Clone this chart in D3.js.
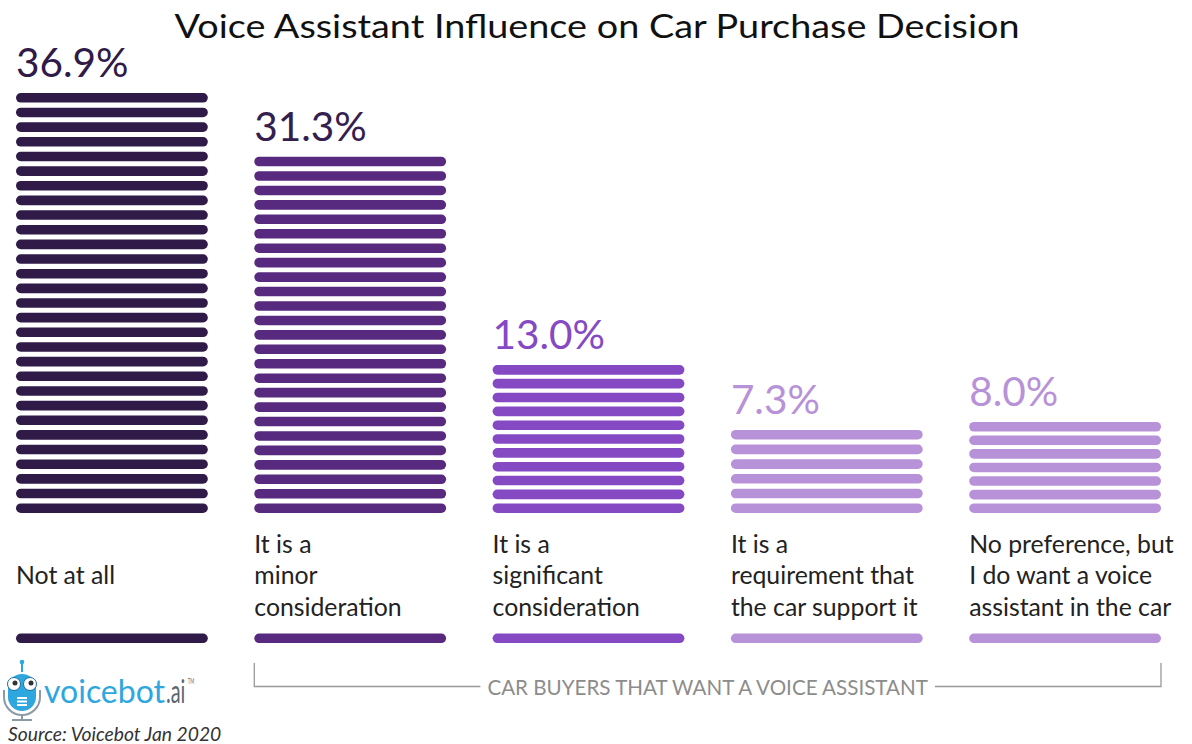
<!DOCTYPE html>
<html><head><meta charset="utf-8">
<script src="https://cdn.jsdelivr.net/npm/d3@7"></script>
<style>
html,body{margin:0;padding:0;background:#fff;}
svg{display:block;}
text{font-family:Lato,"Open Sans",sans-serif;}
</style></head>
<body>
<svg id="chart" width="1192" height="744"></svg>
<script>
const categories = ["Not at all", "It is a minor consideration", "It is a significant consideration", "It is a requirement that the car support it", "No preference, but I do want a voice assistant in the car"];
const labelLines = [["Not at all"], ["It is a", "minor", "consideration"], ["It is a", "significant", "consideration"], ["It is a", "requirement that", "the car support it"], ["No preference, but", "I do want a voice", "assistant in the car"]];
const values = [36.9, 31.3, 13.0, 7.3, 8.0];
const valueLabels = ["36.9%", "31.3%", "13.0%", "7.3%", "8.0%"];
const barColors = ["#2f1a48", "#572a7f", "#8549c4", "#b892d8", "#b892d8"];
const textColors = ["#2f1a48", "#33204f", "#8549c4", "#b892d8", "#b892d8"];
const title = "Voice Assistant Influence on Car Purchase Decision";
const bracketLabel = "CAR BUYERS THAT WANT A VOICE ASSISTANT";
const source = "Source: Voicebot Jan 2020";

const svg = d3.select("#chart");
const x = d3.scaleBand().domain(categories).range([16, 1161]).paddingInner(0.195).paddingOuter(0);
const y = d3.scaleLinear().domain([0, d3.max(values)]).range([513, 93]);
const T = 9.6, targetPitch = 14.5;

svg.append("text").attr("x", 597).attr("y", 38).attr("text-anchor", "middle")
  .attr("font-family", "'Open Sans',sans-serif")
  .attr("font-size", 33).attr("fill", "#111").attr("textLength", 845).attr("lengthAdjust", "spacingAndGlyphs").text(title);

const data = categories.map((c, i) => ({c, v: values[i], lab: valueLabels[i], lines: labelLines[i], color: barColors[i], tcolor: textColors[i]}));

const g = svg.selectAll("g.bar").data(data).enter().append("g").attr("class", "bar");
g.each(function(d) {
  const sel = d3.select(this);
  const top = y(d.v), bottom = y(0), h = bottom - top;
  const n = Math.round((h - T) / targetPitch) + 1;
  const pitch = (h - T) / (n - 1);
  const stripes = d3.range(n).map(k => top + k * pitch);
  sel.selectAll("rect.s").data(stripes).enter().append("rect")
    .attr("x", x(d.c)).attr("y", s => s).attr("width", x.bandwidth()).attr("height", T)
    .attr("rx", T / 2).attr("fill", d.color);
  sel.append("text").attr("x", x(d.c)).attr("y", top - 16).attr("font-size", 40.5)
    .attr("fill", d.tcolor).text(d.lab);
  const lh = 31.5, mid = 575.5;
  d.lines.forEach((ln, k) => {
    const cy = mid - (d.lines.length - 1) * lh / 2 + k * lh;
    sel.append("text").attr("x", x(d.c)).attr("y", cy + 8.5).attr("font-size", 24.8)
      .attr("fill", "#222").text(ln);
  });
  sel.append("rect").attr("x", x(d.c)).attr("y", 633.5).attr("width", x.bandwidth()).attr("height", T)
    .attr("rx", T / 2).attr("fill", d.color);
});

// bracket
const bx0 = x(categories[1]), bx1 = x(categories[4]) + x.bandwidth();
const bt = svg.append("text").attr("x", (bx0 + bx1) / 2).attr("y", 694.5).attr("text-anchor", "middle")
  .attr("font-size", 20.6).attr("fill", "#8c8c8c").text(bracketLabel);
const tw = bt.node().getComputedTextLength();
const tl = (bx0 + bx1) / 2 - tw / 2 - 7, tr = (bx0 + bx1) / 2 + tw / 2 + 7;
svg.append("path").attr("d", `M${bx0},663V686.5H${tl}M${tr},686.5H${bx1}V663`)
  .attr("fill", "none").attr("stroke", "#999").attr("stroke-width", 1.3);

// logo
const logo = svg.append("g");
const blue = "#2ea7df";
logo.append("line").attr("x1", 22).attr("x2", 22).attr("y1", 663).attr("y2", 672).attr("stroke", blue).attr("stroke-width", 2);
logo.append("circle").attr("cx", 22).attr("cy", 662).attr("r", 2.3).attr("fill", blue);
logo.append("path").attr("d", "M8,688 A14,14 0 0 1 36,688 L36,697 A14,14 0 0 1 8,697 Z").attr("fill", blue);
logo.append("path").attr("d", "M4,690 V697 A18,18 0 0 0 40,697 V690").attr("fill", "none").attr("stroke", "#8a9aa6").attr("stroke-width", 2);
logo.append("line").attr("x1", 22).attr("x2", 22).attr("y1", 715).attr("y2", 720).attr("stroke", "#8a9aa6").attr("stroke-width", 2);
logo.append("line").attr("x1", 12).attr("x2", 32).attr("y1", 720).attr("y2", 720).attr("stroke", "#8a9aa6").attr("stroke-width", 2);
[[14, 684], [30, 684]].forEach(([cx, cy]) => {
  logo.append("circle").attr("cx", cx).attr("cy", cy).attr("r", 6.5).attr("fill", "#fff").attr("stroke", "#1d6f9c").attr("stroke-width", 1);
  logo.append("circle").attr("cx", cx + 1).attr("cy", cy - 1).attr("r", 2.5).attr("fill", "#333");
});
[697, 700.5, 704].forEach(yy => logo.append("rect").attr("x", 17).attr("y", yy).attr("width", 10).attr("height", 2).attr("fill", "#fff"));
logo.append("text").attr("x", 44).attr("y", 703).attr("font-size", 32).attr("fill", blue)
  .attr("font-family", "'Open Sans',sans-serif").attr("textLength", 121).attr("lengthAdjust", "spacingAndGlyphs").text("voicebot");
const ai = logo.append("text").attr("transform", "translate(166,703) scale(0.62,1)").attr("font-size", 32)
  .attr("font-family", "'Open Sans',sans-serif").attr("fill", "#5b6770");
ai.append("tspan").text(".ai");
ai.append("tspan").attr("dx", 4).attr("dy", -19).attr("font-size", 7).attr("fill", "#777").text("TM");

svg.append("text").attr("x", 8).attr("y", 741).attr("font-size", 19.3).attr("font-style", "italic")
  .attr("fill", "#333").text(source);
</script>
</body></html>
